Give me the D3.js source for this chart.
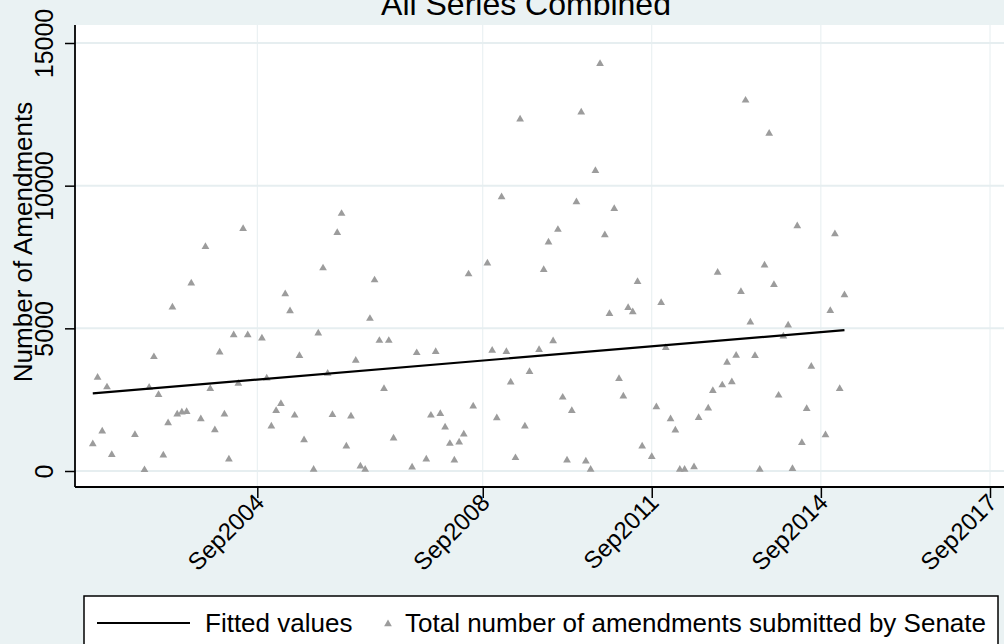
<!DOCTYPE html>
<html>
<head>
<meta charset="utf-8">
<script src="https://cdn.jsdelivr.net/npm/d3@7"></script>
<style>
  body { margin: 0; background: #eaf2f3; }
  svg { display: block; font-family: "Liberation Sans", Arial, Helvetica, sans-serif; }
</style>
</head>
<body>
<div id="chart"></div>
<script>
const width = 1004, height = 644;

// monthly totals
const months = [
  "2001-10","2001-11","2001-12","2002-01","2002-02","2002-07","2002-09","2002-10","2002-11","2002-12",
  "2003-01","2003-02","2003-03","2003-04","2003-05","2003-06","2003-07","2003-09","2003-10","2003-11",
  "2003-12","2004-01","2004-02","2004-03","2004-04","2004-05","2004-06","2004-07","2004-10","2004-11",
  "2004-12","2005-01","2005-02","2005-03","2005-04","2005-05","2005-06","2005-07","2005-09","2005-10",
  "2005-11","2005-12","2006-01","2006-02","2006-03","2006-04","2006-05","2006-06","2006-07","2006-08",
  "2006-09","2006-10","2006-11","2006-12","2007-01","2007-02","2007-06","2007-07","2007-09","2007-10",
  "2007-11","2007-12","2008-01","2008-02","2008-03","2008-04","2008-05","2008-06","2008-07","2008-10",
  "2008-11","2008-12","2009-01","2009-02","2009-03","2009-04","2009-05","2009-06","2009-07","2009-09",
  "2009-10","2009-11","2009-12","2010-01","2010-02","2010-03","2010-04","2010-05","2010-06","2010-07",
  "2010-08","2010-09","2010-10","2010-11","2010-12","2011-01","2011-02","2011-03","2011-04","2011-05",
  "2011-06","2011-07","2011-09","2011-10","2011-11","2011-12","2012-01","2012-02","2012-03","2012-04",
  "2012-06","2012-07","2012-09","2012-10","2012-11","2012-12","2013-01","2013-02","2013-03","2013-04",
  "2013-05","2013-06","2013-07","2013-08","2013-09","2013-10","2013-11","2013-12","2014-01","2014-02",
  "2014-03","2014-04","2014-05","2014-06","2014-07","2014-10","2014-11","2014-12","2015-01","2015-02"
];
const amendments = [
  950, 3280, 1390, 2940, 570, 1270, 40, 2930, 4000, 2670,
  550, 1680, 5740, 1990, 2060, 2080, 6580, 1820, 7860, 2880,
  1440, 4160, 1990, 410, 4770, 3070, 8490, 4770, 4650, 3250,
  1570, 2110, 2360, 6200, 5610, 1950, 4040, 1090, 50, 4830,
  7110, 3420, 1970, 8350, 9020, 870, 1920, 3870, 170, 50,
  5340, 6690, 4570, 2880, 4570, 1150, 130, 4140, 410, 1950,
  4180, 2010, 1530, 960, 380, 1010, 1290, 6900, 2270, 7280,
  4220, 1860, 9600, 4180, 3110, 460, 12330, 1570, 3480, 4250,
  7050, 8020, 4560, 8460, 2580, 380, 2110, 9430, 12570, 340,
  50, 10520, 14270, 8270, 5510, 9190, 3230, 2620, 5720, 5570,
  6630, 870, 500, 2240, 5900, 4320, 1820, 1430, 50, 50,
  140, 1870, 2200, 2810, 6960, 3010, 3800, 3120, 4050, 6280,
  12990, 5210, 4040, 50, 7210, 11830, 6530, 2650, 4720, 5110,
  80, 8590, 990, 2180, 3660, 1260, 5620, 8310, 2880, 6170
];
const xTicks = ["2004-09", "2008-09", "2011-09", "2014-09", "2017-09"];
const yTicks = [0, 5000, 10000, 15000];

const parseMonth = d3.utcParse("%Y-%m");
const fmtMonth = d3.utcFormat("%b%Y");

const data = months.map((m, i) => ({ date: parseMonth(m), value: amendments[i] }));
const tickDates = xTicks.map(parseMonth);

const plotLeft = 75, plotTop = 25, plotBottom = 487;

const x = d3.scaleUtc()
    .domain([tickDates[0], tickDates[tickDates.length - 1]])
    .range([257.3, 990]);
const y = d3.scaleLinear()
    .domain([0, 15000])
    .range([471, 43]);

const svg = d3.select('#chart').append('svg')
    .attr('width', width)
    .attr('height', height);

svg.append('rect')
    .attr('width', width).attr('height', height)
    .attr('fill', '#eaf2f3');

svg.append('rect')
    .attr('x', plotLeft).attr('y', plotTop)
    .attr('width', width - plotLeft).attr('height', plotBottom - plotTop)
    .attr('fill', '#fff');

// grid
svg.append('g').selectAll('line')
    .data(yTicks)
    .enter().append('line')
    .attr('x1', plotLeft).attr('x2', width)
    .attr('y1', d => y(d)).attr('y2', d => y(d))
    .attr('stroke', '#e6eef0').attr('stroke-width', 2);

svg.append('g').selectAll('line')
    .data(tickDates)
    .enter().append('line')
    .attr('x1', d => x(d)).attr('x2', d => x(d))
    .attr('y1', plotTop).attr('y2', plotBottom)
    .attr('stroke', '#e6eef0').attr('stroke-width', 1);

// scatter
svg.append('g').selectAll('path')
    .data(data)
    .enter().append('path')
    .attr('d', d3.symbol(d3.symbolTriangle, 26))
    .attr('transform', d => `translate(${x(d.date)},${y(d.value)})`)
    .attr('fill', '#9c9c9c');

// linear fit
const xs = data.map(d => +d.date), ys = data.map(d => d.value);
const mx = d3.mean(xs), my = d3.mean(ys);
const slope = d3.sum(xs, (v, i) => (v - mx) * (ys[i] - my)) / d3.sum(xs, v => (v - mx) * (v - mx));
const fitAt = t => my + slope * (+t - mx);
const ends = d3.extent(data, d => d.date);

svg.append('path')
    .datum(ends)
    .attr('d', d3.line().x(d => x(d)).y(d => y(fitAt(d))))
    .attr('stroke', '#000')
    .attr('stroke-width', 2.2)
    .attr('fill', 'none');

// axes
const yAxis = svg.append('g')
    .attr('transform', `translate(${plotLeft},0)`)
    .call(d3.axisLeft(y).tickValues(yTicks).tickSize(10).tickFormat(d3.format('d')));
yAxis.select('.domain').remove();
yAxis.selectAll('.tick line').attr('stroke', '#000').attr('stroke-width', 1.5);
yAxis.selectAll('.tick text')
    .attr('x', null).attr('dy', null)
    .attr('transform', 'translate(-22,0) rotate(-90)')
    .style('text-anchor', 'middle')
    .style('font-size', '25px')
    .attr('fill', '#000');

const xAxis = svg.append('g')
    .attr('transform', `translate(0,${plotBottom})`)
    .call(d3.axisBottom(x).tickValues(tickDates).tickSize(11).tickFormat(fmtMonth));
xAxis.select('.domain').remove();
xAxis.selectAll('.tick line').attr('stroke', '#000').attr('stroke-width', 1.5);
xAxis.selectAll('.tick text')
    .attr('y', null).attr('dy', null)
    .attr('transform', 'translate(8,17) rotate(-45)')
    .style('text-anchor', 'end')
    .style('font-size', '24px')
    .attr('fill', '#000');

svg.append('line')
    .attr('x1', plotLeft).attr('x2', plotLeft)
    .attr('y1', plotTop).attr('y2', plotBottom)
    .attr('stroke', '#000').attr('stroke-width', 1.8);
svg.append('line')
    .attr('x1', plotLeft).attr('x2', width)
    .attr('y1', plotBottom).attr('y2', plotBottom)
    .attr('stroke', '#000').attr('stroke-width', 1.8);

// titles
svg.append('text')
    .attr('x', 526).attr('y', 15)
    .attr('text-anchor', 'middle')
    .style('font-size', '32px')
    .text('All Series Combined');

svg.append('text')
    .attr('transform', 'translate(32,242) rotate(-90)')
    .attr('text-anchor', 'middle')
    .style('font-size', '26px')
    .text('Number of Amendments');

// legend
const legend = svg.append('g');
legend.append('rect')
    .attr('x', 84).attr('y', 596)
    .attr('width', 914).attr('height', 70)
    .attr('fill', '#fff')
    .attr('stroke', '#000').attr('stroke-width', 1.5);
legend.append('line')
    .attr('x1', 97).attr('x2', 190)
    .attr('y1', 623).attr('y2', 623)
    .attr('stroke', '#000').attr('stroke-width', 2.2);
legend.append('text')
    .attr('x', 205).attr('y', 632)
    .style('font-size', '26px')
    .text('Fitted values');
legend.append('path')
    .attr('d', d3.symbol(d3.symbolTriangle, 26))
    .attr('transform', 'translate(388,624)')
    .attr('fill', '#9c9c9c');
legend.append('text')
    .attr('x', 405).attr('y', 632)
    .style('font-size', '26px')
    .text('Total number of amendments submitted by Senate');
</script>
</body>
</html>
